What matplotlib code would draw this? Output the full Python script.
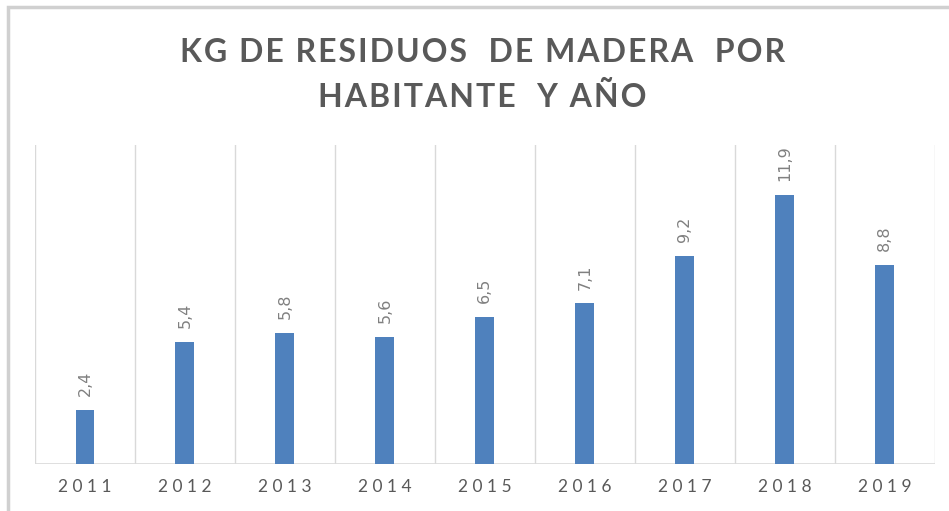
import matplotlib.pyplot as plt
from matplotlib.patches import Rectangle

years = ['2011', '2012', '2013', '2014', '2015', '2016', '2017', '2018', '2019']
kg_per_person = [2.4, 5.4, 5.8, 5.6, 6.5, 7.1, 9.2, 11.9, 8.8]
value_labels = ['2,4', '5,4', '5,8', '5,6', '6,5', '7,1', '9,2', '11,9', '8,8']
title_lines = ['KG DE RESIDUOS  DE MADERA  POR', 'HABITANTE  Y AÑO']

bar_color = '#4F81BD'
grid_color = '#D9D9D9'


def spaced(s, sep='\u200a'):
    # mimic the letter spacing of the original
    return sep.join(s)


fig = plt.figure(figsize=(9.49, 5.11), dpi=100)
ax = fig.add_axes([0.0369, 0.092, 0.948, 0.624])

x = range(len(years))
bars = ax.bar(x, kg_per_person, width=0.19, color=bar_color, zorder=3)

for bar, lbl in zip(bars, value_labels):
    ax.annotate(lbl, (bar.get_x() + bar.get_width() / 2, bar.get_height()),
                xytext=(0, 10), textcoords='offset points', rotation=90,
                ha='center', va='bottom', fontsize=11.5, color='#808080')

# vertical separators between categories
for i in range(len(years) + 1):
    ax.axvline(i - 0.5, color=grid_color, lw=1, zorder=1)
ax.axhline(0, color=grid_color, lw=1.2, zorder=2)

ax.set_xlim(-0.5, len(years) - 0.5)
ax.set_ylim(0, 14.1)
ax.set_xticks(list(x))
ax.set_xticklabels([' '.join(y) for y in years], fontsize=12.5, color='#595959',
                   family=['Lato', 'DejaVu Sans'])
ax.tick_params(axis='x', length=0, pad=11)
ax.set_yticks([])
for s in ax.spines.values():
    s.set_visible(False)

fig.text(0.508, 0.853, '\n'.join(spaced(t) for t in title_lines),
         ha='center', va='center', fontsize=23, fontweight='bold',
         color='#595959', linespacing=1.62, family=['Lato', 'DejaVu Sans'])

# chart frame
fig.patches.append(Rectangle((0.008, -0.05), 1.05, 1.036, transform=fig.transFigure,
                             fill=False, edgecolor='#D0D0D0', lw=2.5))

fig.savefig('out.png', dpi=100)
